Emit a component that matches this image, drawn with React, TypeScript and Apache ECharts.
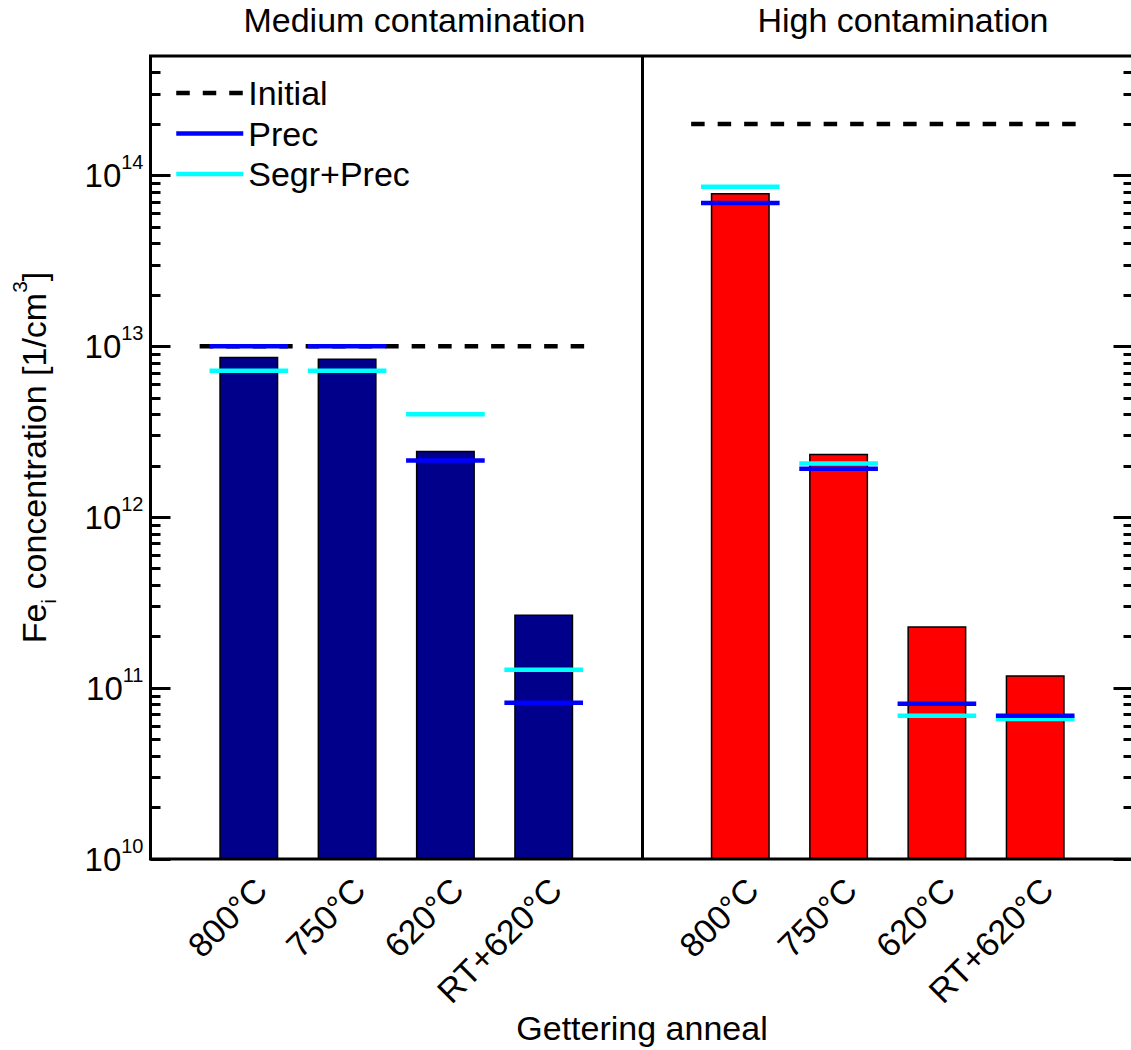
import React, { useEffect, useRef } from 'react';
import * as echarts from 'echarts';

// Anneal categories, repeated for each contamination group
const categories = ['800°C', '750°C', '620°C', 'RT+620°C'];
const groupTitles = ['Medium contamination', 'High contamination'];

// Measured interstitial iron after gettering [1/cm^3]
const mediumMeasured = [8.7e12, 8.5e12, 2.45e12, 2.7e11];
const highMeasured = [7.9e13, 2.35e12, 2.3e11, 1.19e11];

// Initial iron level of each group
const mediumInitial = 1e13;
const highInitial = 2e14;

// Simulated: precipitation only
const mediumPrec = [1e13, 1e13, 2.15e12, 8.2e10];
const highPrec = [6.9e13, 1.92e12, 8.1e10, 6.9e10];

// Simulated: segregation + precipitation
const mediumSegrPrec = [7.2e12, 7.2e12, 4.0e12, 1.28e11];
const highSegrPrec = [8.6e13, 2.06e12, 6.9e10, 6.6e10];

// Log axis range and tick values
const yMin = 1e10;
const yMax = 5e14;
const majorTickValues = [1e10, 1e11, 1e12, 1e13, 1e14];
const minorTickFactors = [2, 3, 4, 5, 6, 7, 8, 9];

const fontFamily = "'Liberation Sans', Arial, Helvetica, sans-serif";

// Slot layout: blank, 4 medium anneals, blank separator, 4 high anneals, blank
const mediumStart = 1;
const highStart = mediumStart + categories.length + 1;
const slotLabels = ['', ...categories, '', ...categories, ''];
const slotMax = slotLabels.length - 1;
const separatorSlot = mediumStart + categories.length;

const minorTickValues = majorTickValues
  .flatMap((d) => minorTickFactors.map((f) => f * d))
  .filter((v) => v < yMax);

function placeBars(values: number[], start: number) {
  const out: (number | null)[] = slotLabels.map(() => null);
  values.forEach((v, i) => {
    out[start + i] = v;
  });
  return out;
}

// Short horizontal segments centred on each bar slot, broken between slots
function segments(values: number[], start: number, half: number) {
  const out: (number | string)[][] = [];
  values.forEach((v, i) => {
    const p = start + i;
    out.push([p - half, v], [p + half, v], [p + 0.5, '-']);
  });
  return out;
}

function initialLine(level: number, start: number, count: number) {
  return [
    [start - 0.5, level],
    [start + count - 0.5, level],
    [start + count, '-'],
  ];
}

const initialData = [
  ...initialLine(mediumInitial, mediumStart, categories.length),
  ...initialLine(highInitial, highStart, categories.length),
];
const precData = [...segments(mediumPrec, mediumStart, 0.4), ...segments(highPrec, highStart, 0.4)];
const segrPrecData = [
  ...segments(mediumSegrPrec, mediumStart, 0.4),
  ...segments(highSegrPrec, highStart, 0.4),
];

const baseLogAxis = {
  type: 'log' as const,
  logBase: 10,
  min: yMin,
  max: yMax,
  splitLine: { show: false },
  axisLine: { show: false },
};

const majorTick = {
  show: true,
  inside: true,
  length: 20,
  lineStyle: { color: '#000', width: 3 },
  customValues: majorTickValues,
};
const minorTick = {
  show: true,
  inside: true,
  length: 10,
  lineStyle: { color: '#000', width: 3 },
  customValues: minorTickValues,
};

const titleStyle = {
  fontSize: 34,
  fontFamily,
  fill: '#000',
  align: 'center',
  verticalAlign: 'middle',
};

const option: any = {
  animation: false,
  backgroundColor: '#fff',
  textStyle: { fontFamily },
  grid: {
    left: 150.5,
    right: 6.5,
    top: 56,
    bottom: 191,
    containLabel: false,
    outerBoundsMode: 'none',
    show: true,
    borderColor: '#000',
    borderWidth: 3,
    backgroundColor: 'transparent',
    z: 5,
  },
  graphic: [
    { type: 'text', x: 414.5, y: 20, style: { ...titleStyle, text: groupTitles[0] } },
    { type: 'text', x: 903, y: 20, style: { ...titleStyle, text: groupTitles[1] } },
  ],
  legend: {
    data: ['Initial', 'Prec', 'Segr+Prec'],
    orient: 'vertical',
    left: 169,
    top: 71,
    itemWidth: 67,
    itemHeight: 14,
    itemGap: 6.5,
    selectedMode: false,
    itemStyle: { opacity: 0 },
    lineStyle: { width: 4.5 },
    textStyle: {
      fontSize: 34,
      fontFamily,
      color: '#000',
      lineHeight: 34,
    },
  },
  xAxis: [
    {
      type: 'category',
      data: slotLabels,
      boundaryGap: false,
      axisLine: { show: false },
      axisTick: { show: false },
      splitLine: { show: false },
      axisLabel: {
        interval: 0,
        rotate: 45,
        fontSize: 34,
        fontFamily,
        color: '#000',
        verticalAlign: 'top',
        margin: 13,
      },
      name: 'Gettering anneal',
      nameLocation: 'middle',
      nameGap: 152,
      nameMoveOverlap: false,
      nameTextStyle: { fontSize: 34, fontFamily, color: '#000' },
    },
    {
      type: 'value',
      min: 0,
      max: slotMax,
      show: false,
    },
  ],
  yAxis: [
    {
      ...baseLogAxis,
      position: 'left',
      axisTick: majorTick,
      axisLabel: {
        customValues: majorTickValues,
        margin: 7,
        formatter: (v: number) => `{b|10}{s|${Math.round(Math.log10(v))}}`,
        rich: {
          b: { fontSize: 33, lineHeight: 46, fontFamily, color: '#000' },
          s: { fontSize: 20, lineHeight: 20, verticalAlign: 'top', fontFamily, color: '#000' },
        },
      },
      name: '{n|Fe}{sub|i}{n| concentration [1/cm}{sup|3}{n|]}',
      nameLocation: 'middle',
      nameGap: 92,
      nameMoveOverlap: false,
      nameTextStyle: {
        fontSize: 34,
        fontFamily,
        color: '#000',
        rich: {
          n: { fontSize: 34, lineHeight: 50, fontFamily, color: '#000' },
          sub: { fontSize: 21, lineHeight: 21, verticalAlign: 'bottom', fontFamily, color: '#000' },
          sup: { fontSize: 21, lineHeight: 21, verticalAlign: 'top', fontFamily, color: '#000' },
        },
      },
    },
    {
      ...baseLogAxis,
      position: 'left',
      axisTick: minorTick,
      axisLabel: { show: false },
    },
    {
      ...baseLogAxis,
      position: 'right',
      axisTick: majorTick,
      axisLabel: { show: false },
    },
    {
      ...baseLogAxis,
      position: 'right',
      axisTick: minorTick,
      axisLabel: { show: false },
    },
  ],
  series: [
    {
      type: 'bar',
      name: 'Medium',
      data: placeBars(mediumMeasured, mediumStart),
      barWidth: 59,
      barGap: '-100%',
      silent: true,
      itemStyle: { color: '#00008B', borderColor: '#000', borderWidth: 1.5 },
      markLine: {
        silent: true,
        symbol: ['none', 'none'],
        label: { show: false },
        lineStyle: { color: '#000', width: 3, type: 'solid' },
        data: [{ xAxis: separatorSlot }],
      },
    },
    {
      type: 'bar',
      name: 'High',
      data: placeBars(highMeasured, highStart),
      barWidth: 59,
      barGap: '-100%',
      silent: true,
      itemStyle: { color: '#FF0000', borderColor: '#000', borderWidth: 1.5 },
    },
    {
      type: 'line',
      name: 'Initial',
      xAxisIndex: 1,
      yAxisIndex: 0,
      data: initialData,
      symbol: 'none',
      silent: true,
      connectNulls: false,
      itemStyle: { color: '#000' },
      lineStyle: { color: '#000', width: 4.5, type: [13.5, 13] },
    },
    {
      type: 'line',
      name: 'Segr+Prec',
      xAxisIndex: 1,
      yAxisIndex: 0,
      data: segrPrecData,
      symbol: 'none',
      silent: true,
      connectNulls: false,
      itemStyle: { color: '#00FFFF' },
      lineStyle: { color: '#00FFFF', width: 4.5 },
    },
    {
      type: 'line',
      name: 'Prec',
      xAxisIndex: 1,
      yAxisIndex: 0,
      data: precData,
      symbol: 'none',
      silent: true,
      connectNulls: false,
      itemStyle: { color: '#0000FF' },
      lineStyle: { color: '#0000FF', width: 4.5 },
    },
  ],
};

export default function App() {
  const ref = useRef<HTMLDivElement>(null);
  useEffect(() => {
    if (!ref.current) return;
    const chart = echarts.init(ref.current, null, { renderer: 'svg' });
    chart.setOption(option);
    return () => chart.dispose();
  }, []);
  return (
    <div
      style={{
        position: 'fixed',
        left: 0,
        top: 0,
        width: 1131,
        height: 1050,
        overflow: 'hidden',
        background: '#fff',
      }}
    >
      <div ref={ref} style={{ width: 1140, height: 1050 }} />
    </div>
  );
}
